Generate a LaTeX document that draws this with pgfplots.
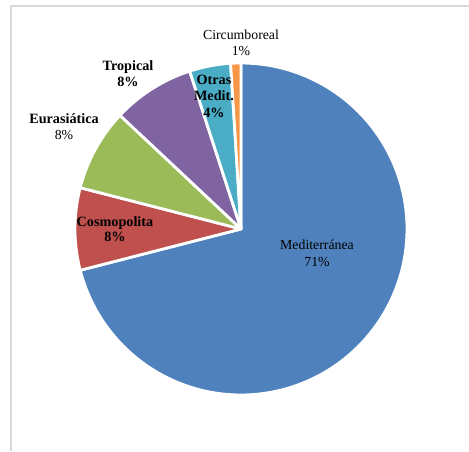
\documentclass[border=0pt]{standalone}
\usepackage{fontspec}
\setmainfont{Liberation Serif}
\usepackage{pgfplots}
\usepackage{pgfplotstable}
\pgfplotsset{compat=1.18}
\definecolor{cMed}{HTML}{4F81BD}
\definecolor{cCos}{HTML}{C0504D}
\definecolor{cEur}{HTML}{9BBB59}
\definecolor{cTro}{HTML}{8064A2}
\definecolor{cOtr}{HTML}{4BACC6}
\definecolor{cCir}{HTML}{F79646}
\definecolor{frame}{HTML}{D9D9D9}
\pgfplotstableread{
label value
Mediterranea 71
Cosmopolita 8
Eurasiatica 8
Tropical 8
OtrasMedit 4
Circumboreal 1
}\pietable
\begin{document}
\begin{tikzpicture}
\useasboundingbox (0pt,0pt) rectangle (469pt,451pt);
\pgfplotstablegetelem{0}{value}\of\pietable \let\vMed\pgfplotsretval
\pgfplotstablegetelem{1}{value}\of\pietable \let\vCos\pgfplotsretval
\pgfplotstablegetelem{2}{value}\of\pietable \let\vEur\pgfplotsretval
\pgfplotstablegetelem{3}{value}\of\pietable \let\vTro\pgfplotsretval
\pgfplotstablegetelem{4}{value}\of\pietable \let\vOtr\pgfplotsretval
\pgfplotstablegetelem{5}{value}\of\pietable \let\vCir\pgfplotsretval
% angles: Mediterranea clockwise from 12 o'clock, rest counterclockwise from 12 o'clock
\pgfmathsetmacro\aA{90}
\pgfmathsetmacro\aB{\aA+3.6*\vCir}
\pgfmathsetmacro\aC{\aB+3.6*\vOtr}
\pgfmathsetmacro\aD{\aC+3.6*\vTro}
\pgfmathsetmacro\aE{\aD+3.6*\vEur}
\pgfmathsetmacro\aF{\aE+3.6*\vCos}
\pgfmathsetmacro\aM{\aA-3.6*\vMed}
\begin{axis}[at={(0pt,0pt)}, anchor=south west, scale only axis,
  width=469pt, height=451pt, xmin=-241, xmax=228, ymin=-222, ymax=229,
  hide axis, clip=false]
\addplot[fill=cMed, draw=white, line width=2.8pt, line join=round, domain=\aM:\aA, samples=120, variable=\t]
  ({166*cos(\t)}, {166*sin(\t)}) -- (axis cs:0,0) -- cycle;
\addplot[fill=cCos, draw=white, line width=2.8pt, line join=round, domain=\aE:\aF, samples=30, variable=\t]
  ({166*cos(\t)}, {166*sin(\t)}) -- (axis cs:0,0) -- cycle;
\addplot[fill=cEur, draw=white, line width=2.8pt, line join=round, domain=\aD:\aE, samples=30, variable=\t]
  ({166*cos(\t)}, {166*sin(\t)}) -- (axis cs:0,0) -- cycle;
\addplot[fill=cTro, draw=white, line width=2.8pt, line join=round, domain=\aC:\aD, samples=30, variable=\t]
  ({166*cos(\t)}, {166*sin(\t)}) -- (axis cs:0,0) -- cycle;
\addplot[fill=cOtr, draw=white, line width=2.8pt, line join=round, domain=\aB:\aC, samples=20, variable=\t]
  ({166*cos(\t)}, {166*sin(\t)}) -- (axis cs:0,0) -- cycle;
\addplot[fill=cCir, draw=white, line width=2.8pt, line join=round, domain=\aA:\aB, samples=8, variable=\t]
  ({166*cos(\t)}, {166*sin(\t)}) -- (axis cs:0,0) -- cycle;
\begin{scope}[every node/.style={align=center, inner sep=0pt}]
\node[font=\fontsize{13.8}{16.5}\selectfont] at (axis cs:76,-24.5) {Mediterránea\\71\%};
\node[font=\fontsize{14.2}{15}\selectfont] at (axis cs:-126,0) {\bfseries Cosmopolita\\\bfseries 8\%};
\node[font=\fontsize{14.2}{16.5}\selectfont] at (axis cs:-177,102.5) {\bfseries Eurasiática\\\fontsize{13.8}{16.5}\selectfont 8\%};
\node[font=\fontsize{14.2}{16.5}\selectfont] at (axis cs:-113,155.5) {\bfseries Tropical\\\bfseries 8\%};
\node[font=\fontsize{14.2}{16.5}\selectfont] at (axis cs:-27,133) {\bfseries Otras\\\bfseries Medit.\\\bfseries 4\%};
\node[font=\fontsize{13.8}{16.5}\selectfont] at (axis cs:0,186) {Circumboreal\\1\%};
\end{scope}
\end{axis}
\draw[frame, line width=1.5pt] (11pt,0pt) -- (11pt,445pt) -- (469pt,445pt);
\end{tikzpicture}
\end{document}
